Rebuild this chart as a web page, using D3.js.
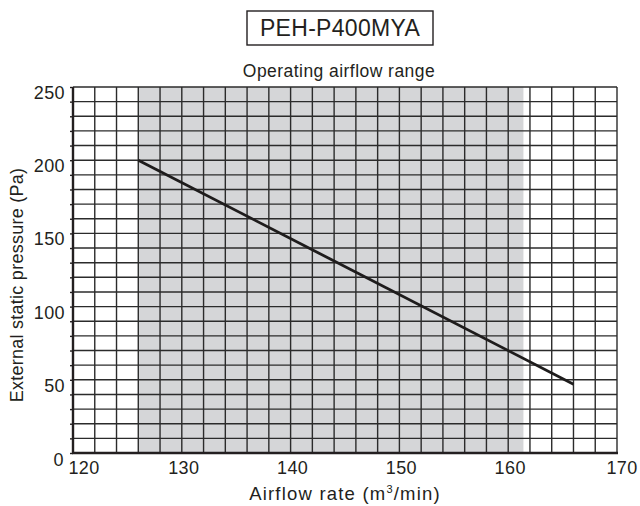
<!DOCTYPE html>
<html><head><meta charset="utf-8">
<script src="https://cdn.jsdelivr.net/npm/d3@7"></script>
<style>
body{margin:0;background:#fff;}
text{font-family:"Liberation Sans",Arial,Helvetica,sans-serif;fill:#231f20;}
</style></head>
<body><svg id="c" width="640" height="506"></svg>
<script>
const modelName = "PEH-P400MYA";
const rangeLabel = "Operating airflow range";
const airflow = [126, 166];
const pressure = [200, 47];
const operatingRange = [126, 161.4];
const xTickValues = [120, 130, 140, 150, 160, 170];
const yTickValues = [0, 50, 100, 150, 200, 250];
const xDomain = [120, 170];
const yDomain = [0, 250];

const svg = d3.select("#c");
const L = 73, R = 617, T = 87, B = 453;
const x = d3.scaleLinear().domain(xDomain).range([L, R]);
const y = d3.scaleLinear().domain(yDomain).range([B, T]);

// shaded operating range
svg.append("rect")
  .attr("x", x(operatingRange[0])).attr("y", T)
  .attr("width", x(operatingRange[1]) - x(operatingRange[0]))
  .attr("height", B - T)
  .attr("fill", "#d5d6d8");

// grid
const gx = d3.range(xDomain[0], xDomain[1] + 0.001, 2);
const gy = d3.range(yDomain[0], yDomain[1] + 0.001, 10);
svg.append("g").selectAll("line").data(gx).join("line")
  .attr("x1", d => x(d)).attr("x2", d => x(d)).attr("y1", T).attr("y2", B)
  .attr("stroke", "#2b2b2b").attr("stroke-width", 1.4);
svg.append("g").selectAll("line").data(gy).join("line")
  .attr("y1", d => y(d)).attr("y2", d => y(d)).attr("x1", L).attr("x2", R)
  .attr("stroke", "#2b2b2b").attr("stroke-width", 1.4);

// axes
const yAxis = d3.axisLeft(y).tickValues(gy).tickSize(3).tickFormat("");
const ya = svg.append("g").attr("transform", `translate(${L},0)`).call(yAxis);
ya.select(".domain").attr("stroke", "#231f20").attr("stroke-width", 2.4).attr("d", `M0,${T}V${B}`);
ya.selectAll(".tick line").attr("stroke", "#231f20").attr("stroke-width", 1.4);
const xAxis = d3.axisBottom(x).tickValues(xTickValues).tickSize(0).tickFormat("");
const xa = svg.append("g").attr("transform", `translate(0,${B})`).call(xAxis);
xa.select(".domain").attr("stroke", "#231f20").attr("stroke-width", 2.6).attr("d", `M${L - 1},0H${R + 1}`);

// tick labels
svg.append("g").selectAll("text").data(yTickValues).join("text")
  .attr("x", d => d === 0 ? 64 : 65).attr("y", d => y(d) + (d === 0 ? 13 : 12))
  .attr("text-anchor", "end").attr("font-size", 18).attr("letter-spacing", 0.4)
  .text(d => d);
svg.append("g").selectAll("text").data(xTickValues).join("text")
  .attr("x", d => x(d) + (d === 120 ? 11 : (d === 170 ? 5 : 2))).attr("y", 474)
  .attr("text-anchor", "middle").attr("font-size", 18).attr("letter-spacing", 0.4)
  .text(d => d);

// data line
const line = d3.line().x(d => x(d[0])).y(d => y(d[1]));
svg.append("path").datum(d3.zip(airflow, pressure))
  .attr("d", line).attr("fill", "none").attr("stroke", "#1e1c1c").attr("stroke-width", 2.8);

// titles
svg.append("rect").attr("x", 247).attr("y", 11).attr("width", 186).attr("height", 34)
  .attr("fill", "none").attr("stroke", "#231f20").attr("stroke-width", 1.4);
svg.append("text").attr("x", 340).attr("y", 36).attr("text-anchor", "middle")
  .attr("font-size", 23).attr("letter-spacing", 0.3).text(modelName);
svg.append("text").attr("x", 339).attr("y", 77).attr("text-anchor", "middle")
  .attr("font-size", 17.5).attr("letter-spacing", 0.45).text(rangeLabel);

const xt = svg.append("text").attr("x", 345).attr("y", 500).attr("text-anchor", "middle")
  .attr("font-size", 18.5).attr("letter-spacing", 1.2);
xt.append("tspan").text("Airflow rate (m");
xt.append("tspan").attr("font-size", 11).attr("dy", -7).text("3");
xt.append("tspan").attr("dy", 7).text("/min)");

svg.append("text").attr("transform", "translate(23,285) rotate(-90)")
  .attr("text-anchor", "middle").attr("font-size", 18).attr("letter-spacing", 0.25)
  .text("External static pressure (Pa)");
</script></body></html>
